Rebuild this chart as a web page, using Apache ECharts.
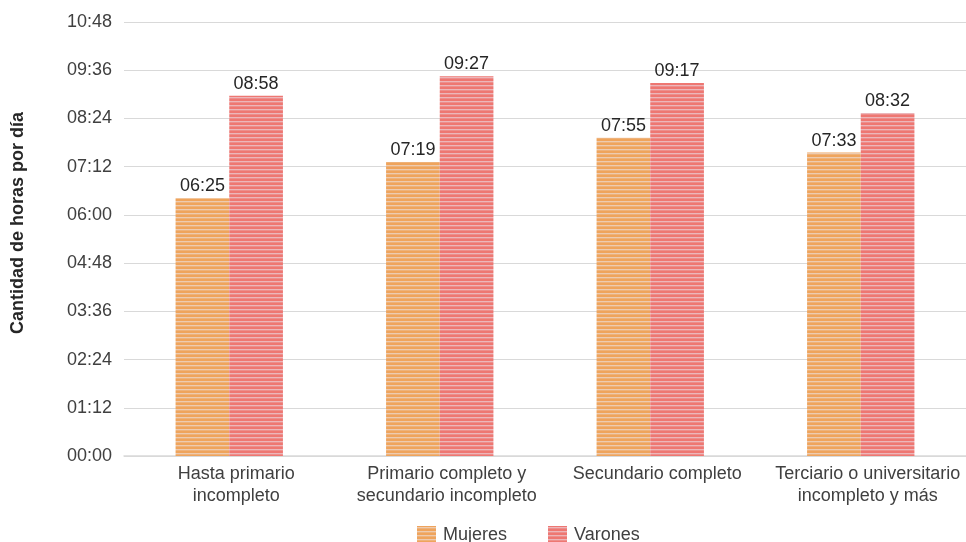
<!DOCTYPE html>
<html><head><meta charset="utf-8">
<script src="https://cdn.jsdelivr.net/npm/echarts@6/dist/echarts.min.js"></script>
<style>html,body{margin:0;padding:0;background:#fff}#c{width:966px;height:542px}</style>
</head><body><div id="c"></div>
<script>
const categories = ["Hasta primario\nincompleto", "Primario completo y\nsecundario incompleto", "Secundario completo", "Terciario o universitario\nincompleto y más"];
const mujeres = [385, 439, 475, 453];   // minutes: 06:25, 07:19, 07:55, 07:33
const varones = [538, 567, 557, 512];   // minutes: 08:58, 09:27, 09:17, 08:32
const seriesNames = ["Mujeres", "Varones"];
const yAxisName = "Cantidad de horas por día";

function fmt(m){const h=Math.floor(m/60),mm=Math.round(m-h*60);return String(h).padStart(2,'0')+':'+String(mm).padStart(2,'0');}
function makePattern(base){
  const c=document.createElement('canvas');c.width=8;c.height=4;
  const g=c.getContext('2d');g.fillStyle=base;g.fillRect(0,0,8,4);
  g.fillStyle='rgba(235,235,245,0.55)';g.fillRect(0,1,8,1);
  g.fillStyle='rgba(235,235,245,0.2)';g.fillRect(0,2,8,1);
  return c;
}
const orange='#EFA45C', red='#EE7772';
const font='Liberation Sans, Arial, sans-serif';
const chart=echarts.init(document.getElementById('c'));
chart.setOption({
  animation:false,
  textStyle:{fontFamily:font},
  grid:{left:124,right:0,top:22,bottom:86},
  legend:{top:526,left:417,padding:0,itemGap:41,itemWidth:19,itemHeight:19,icon:'rect',
    textStyle:{fontSize:18,color:'#404040',padding:[2,0,0,2]},data:seriesNames},
  graphic:[{type:'text',x:18,y:223,rotation:Math.PI/2,
    style:{text:yAxisName,font:'bold 18px '+font,fill:'#262626',align:'center',verticalAlign:'middle'}}],
  xAxis:{type:'category',data:categories,
    axisLine:{lineStyle:{color:'#d9d9d9',width:1.5}},axisTick:{show:false},
    axisLabel:{fontSize:18,color:'#404040',lineHeight:22,margin:7,interval:0,padding:[0,0,0,14]}},
  yAxis:{type:'value',min:0,max:648,interval:72,
    axisLabel:{formatter:fmt,fontSize:18,color:'#404040',margin:12},
    axisLine:{show:false},axisTick:{show:false},
    splitLine:{lineStyle:{color:'#d9d9d9',width:1}}},
  series:[
    {name:seriesNames[0],type:'bar',data:mujeres,barGap:'0%',barCategoryGap:'49%',
     itemStyle:{color:{image:makePattern(orange),repeat:'repeat'}},
     label:{show:true,position:'top',formatter:p=>fmt(p.value),fontSize:18,color:'#262626',distance:3}},
    {name:seriesNames[1],type:'bar',data:varones,
     itemStyle:{color:{image:makePattern(red),repeat:'repeat'}},
     label:{show:true,position:'top',formatter:p=>fmt(p.value),fontSize:18,color:'#262626',distance:3}}
  ]
});
</script></body></html>
